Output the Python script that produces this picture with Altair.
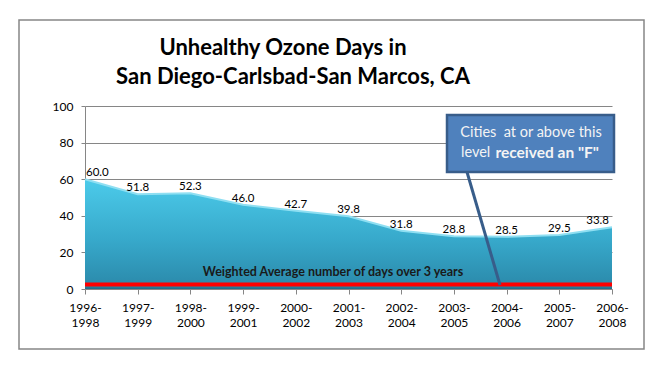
import altair as alt
import pandas as pd

# ---------------- data ----------------
categories = ["1996-1998", "1997-1999", "1998-2000", "1999-2001", "2000-2002", "2001-2003",
              "2002-2004", "2003-2005", "2004-2006", "2005-2007", "2006-2008"]
ozone_days = [60.0, 51.8, 52.3, 46.0, 42.7, 39.8, 31.8, 28.8, 28.5, 29.5, 33.8]
weighted_average = [2.5, 2.5, 2.5, 2.5, 2.5, 2.5, 2.5, 2.5, 2.5, 2.5, 2.5]
y_ticks = [0, 20, 40, 60, 80, 100]

title_line1 = "Unhealthy Ozone Days in"
title_line2 = "San Diego-Carlsbad-San Marcos, CA"
avg_label = "Weighted Average number of days over 3 years"
callout_line1 = "Cities \u00a0at or above this"
callout_line2_regular = "level"
callout_line2_bold = 'received an "F"'

df = pd.DataFrame({
    "period": categories,
    "days": ozone_days,
    "avg": weighted_average,
    "idx": list(range(len(categories))),
})

FONT = "Lato"
W, H = 527, 183
GRID = "#868686"

x_scale = alt.Scale(type="point", padding=0)
y_scale = alt.Scale(domain=[0, 100], nice=False)

x_axis = alt.Axis(
    title=None, labelAngle=0, grid=False,
    labelExpr="[slice(datum.label, 0, 5), slice(datum.label, 5)]",
    labelFont=FONT, labelFontSize=12, labelColor="#000000",
    labelBaseline="top", labelPadding=8, labelLineHeight=15,
    tickSize=5, tickColor=GRID, domainColor=GRID, labelOverlap=False,
)
y_axis = alt.Axis(
    title=None, values=y_ticks, grid=True, gridColor=GRID,
    labelFont=FONT, labelFontSize=12, labelColor="#000000",
    labelPadding=8, tickSize=4, tickColor=GRID, domainColor=GRID,
)


def xe():
    return alt.X("period:N", sort=categories, scale=x_scale, axis=x_axis)


def ye(field):
    return alt.Y(f"{field}:Q", scale=y_scale, axis=y_axis)


base = alt.Chart(df)

gradient = alt.Gradient(
    gradient="linear",
    stops=[
        alt.GradientStop(color="#4ccbea", offset=0),
        alt.GradientStop(color="#37a9cb", offset=0.55),
        alt.GradientStop(color="#2b8aab", offset=0.97),
        alt.GradientStop(color="#1f6a85", offset=1),
    ],
    x1=0, x2=0, y1=0, y2=1,
)

area = base.mark_area(fill=gradient, interpolate="linear").encode(x=xe(), y=ye("days"))
top_line = base.mark_line(color="#8fdff2", strokeWidth=2).encode(x=xe(), y=ye("days"))
red_line = base.mark_line(color="#ff0000", strokeWidth=4).encode(x=xe(), y=ye("avg"))

lbl_kwargs = dict(font=FONT, fontSize=11.5, color="#000000", baseline="middle", dy=-6)
labels_mid = base.transform_filter("datum.idx > 0 && datum.idx < 10").mark_text(
    align="center", **lbl_kwargs).encode(x=xe(), y=ye("days"), text=alt.Text("days:Q", format=".1f"))
labels_first = base.transform_filter("datum.idx == 0").mark_text(
    align="left", dx=1, **lbl_kwargs).encode(x=xe(), y=ye("days"), text=alt.Text("days:Q", format=".1f"))
labels_last = base.transform_filter("datum.idx == 10").mark_text(
    align="right", dx=-3, **lbl_kwargs).encode(x=xe(), y=ye("days"), text=alt.Text("days:Q", format=".1f"))

one = alt.Chart(alt.Data(values=[{"k": 1}]))

border = one.mark_rect(fill="transparent", stroke=GRID, strokeWidth=1.5).encode(
    x=alt.value(-66), x2=alt.value(559), y=alt.value(-86), y2=alt.value(243))

avg_text = one.mark_text(font=FONT, fontSize=12.5, fontWeight="bold", color="#1a1a1a",
                         align="center", baseline="middle").encode(
    x=alt.value(248), y=alt.value(165.5), text=alt.value(avg_label))

pointer = one.mark_rule(color="#385d8a", strokeWidth=3).encode(
    x=alt.value(382), y=alt.value(66), x2=alt.value(415), y2=alt.value(179))

callout = one.mark_rect(fill="#4f81bd", stroke="#385d8a", strokeWidth=2.5).encode(
    x=alt.value(362), x2=alt.value(529), y=alt.value(9), y2=alt.value(66))

CF = 14.5
c1 = one.mark_text(font=FONT, fontSize=CF, color="#f4f4f4", align="center",
                   baseline="middle").encode(x=alt.value(446), y=alt.value(27),
                                             text=alt.value(callout_line1))
c2a = one.mark_text(font=FONT, fontSize=CF, color="#f4f4f4", align="left",
                    baseline="middle").encode(x=alt.value(376), y=alt.value(47),
                                              text=alt.value(callout_line2_regular))
c2b = one.mark_text(font=FONT, fontSize=15.5, fontWeight="bold", color="#f4f4f4", align="right",
                    baseline="middle").encode(x=alt.value(514), y=alt.value(47),
                                              text=alt.value(callout_line2_bold))

t1 = one.mark_text(font=FONT, fontSize=22, fontWeight="bold", color="#000000", align="center",
                   baseline="alphabetic").encode(x=alt.value(198), y=alt.value(-51),
                                                 text=alt.value(title_line1))
t2 = one.mark_text(font=FONT, fontSize=22, fontWeight="bold", color="#000000", align="center",
                   baseline="alphabetic").encode(x=alt.value(208), y=alt.value(-22),
                                                 text=alt.value(title_line2))

chart = alt.layer(
    border, area, top_line, red_line, avg_text, labels_mid, labels_first, labels_last,
    pointer, callout, c1, c2a, c2b, t1, t2,
).properties(
    width=W, height=H,
    autosize=alt.AutoSizeParams(type="none"),
    padding={"left": 77, "top": 98, "right": 40, "bottom": 70},
    background="#ffffff",
).configure_view(stroke="transparent")

chart.save("out.html", embed_options={"renderer": "svg", "actions": False})
